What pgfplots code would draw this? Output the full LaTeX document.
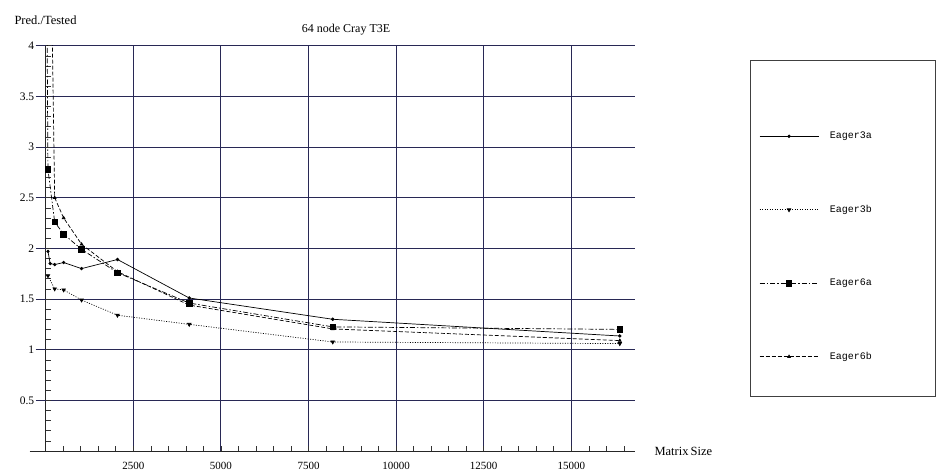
\documentclass[border=0pt]{standalone}
\usepackage{pgfplots}
\pgfplotsset{compat=1.18}
\usepackage{fontspec}
\setmainfont{Liberation Serif}
\newfontfamily\monofont{Liberation Mono}
\definecolor{gridc}{RGB}{40,40,85}
\begin{document}
\begin{tikzpicture}[x=1pt,y=1pt]
\path[use as bounding box] (0,0) rectangle (937,473);
\begin{axis}[
  at={(45.7pt,22pt)}, anchor=south west,
  scale only axis, width=589.3pt, height=405.3pt,
  xmin=0, xmax=16818, ymin=0, ymax=4,
  axis x line*=bottom, axis y line*=left,
  axis line style={-, black!85, line width=0.8pt},
  x axis line style={shorten <=-16pt},
  xtick={2500,5000,...,15000}, ytick={0.5,1,...,4},
  minor xtick={500,1000,...,16500}, minor ytick={0.1,0.2,...,3.95},
  tick align=inside, major tick length=0pt, minor tick length=5pt,
  minor tick style={black!80, line width=0.6pt},
  grid=major, major grid style={gridc, line width=0.9pt},
  extra y ticks={0.5,1,...,4}, extra y tick labels={},
  extra y tick style={grid=none, tick align=outside, major tick length=10pt, major tick style={gridc, line width=0.9pt}},
  scaled x ticks=false,
  /pgf/number format/assume math mode=true,
  /pgf/number format/1000 sep={},
  xticklabel style={font=\fontsize{11}{13}\selectfont, yshift=-7.5pt},
  yticklabel style={font=\fontsize{11.5}{13}\selectfont, xshift=-8pt},
  legend style={draw=none, fill=none, inner sep=0pt,
    at={(axis description cs:1.2104,0.792)}, anchor=north west,
    row sep=61pt, column sep=9pt,
    font=\monofont\fontsize{10}{12}\selectfont},
  legend cell align=left,
  legend image code/.code={\draw[mark repeat=2,mark phase=2,#1] plot coordinates {(0pt,0pt) (29.5pt,0pt) (59pt,0pt)};},
]
\addplot[black, line width=0.7pt, mark=*, mark size=1.3pt] coordinates {
 (64,1.97) (128,1.85) (256,1.84) (512,1.86) (1024,1.80) (2048,1.89) (4096,1.51) (8192,1.30) (16384,1.135)};
\addlegendentry{Eager3a}
\addplot[black, line width=0.7pt, dash pattern=on 1pt off 1.5pt, mark=triangle*, mark size=2pt, mark options={solid, rotate=180}] coordinates {
 (64,1.73) (256,1.60) (512,1.59) (1024,1.49) (2048,1.34) (4096,1.25) (8192,1.076) (16384,1.06)};
\addlegendentry{Eager3b}
\addplot[black, line width=0.7pt, dash pattern=on 5pt off 2pt on 1.5pt off 2pt, mark=square*, mark size=2.8pt, mark options={solid}] coordinates {
 (32,4.6) (64,2.78) (256,2.26) (512,2.14) (1024,1.99) (2048,1.76) (4096,1.46) (8192,1.225) (16384,1.20)};
\addlegendentry{Eager6a}
\addplot[black, line width=0.7pt, dash pattern=on 4pt off 2pt, mark=triangle*, mark size=1.6pt, mark options={solid}] coordinates {
 (64,7) (256,2.5) (512,2.3) (1024,2.04) (2048,1.77) (4096,1.44) (8192,1.205) (16384,1.09)};
\addlegendentry{Eager6b}
\end{axis}
\draw[black!75, line width=0.8pt] (750,77) rectangle (935,413);
\node[anchor=center, font=\fontsize{12}{14}\selectfont] at (346,443) {64 node Cray T3E};
\node[anchor=west, font=\fontsize{12.5}{14}\selectfont] at (11,453) {Pred./Tested};
\node[anchor=west, font=\fontsize{12.5}{14}\selectfont] at (651,22) {Matrix\,Size};
\end{tikzpicture}
\end{document}
